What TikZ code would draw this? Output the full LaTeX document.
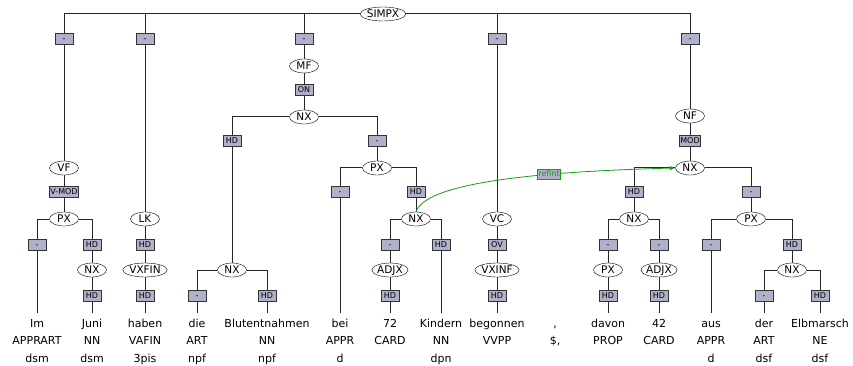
\documentclass[tikz,border=0pt]{standalone}
\usepackage{fontspec}
\setmainfont{DejaVu Sans}
\usetikzlibrary{arrows.meta, shapes.geometric}

\definecolor{fnfill}{RGB}{175,176,202}
\definecolor{refgreen}{RGB}{20,160,20}

\begin{document}
\begin{tikzpicture}[>=Latex, x=1pt, y=-1pt,
    cat/.style={draw, ellipse, fill=white, inner xsep=0pt, inner ysep=0pt,
        minimum width=29pt, minimum height=14pt, text height=7.6pt, text depth=0pt,
        font=\fontsize{10.5}{12}\selectfont},
    fn/.style={draw=black!80, line width=0.8pt, fill=fnfill, inner xsep=1pt,
        inner ysep=0pt, minimum width=18pt, minimum height=10.5pt, text height=6pt,
        text depth=1pt, font=\fontsize{8}{9}\selectfont},
    word/.style={anchor=base, inner xsep=0pt, inner ysep=5.5pt, text height=8.4pt,
        text depth=2.5pt, font=\fontsize{11}{13}\selectfont},
    branch/.style={line width=1pt, black!85},
    refarc/.style={refgreen, line width=0.8pt, -{Latex[length=5.5pt, width=4.5pt]}}]
    \useasboundingbox (0,0) rectangle (853,366);
    % tokens: word, tag, morphology
    \foreach \x/\k/\w/\t/\m in {37/im/Im/APPRART/dsm, 92/juni/Juni/NN/dsm,
        145/haben/haben/VAFIN/3pis, 197/die/die/ART/npf, 267/blut/Blutentnahmen/NN/npf,
        340/bei/bei/APPR/d, 390/zwei/72/CARD/{}, 441/kind/Kindern/NN/dpn,
        497/begon/begonnen/VVPP/{}, 555/komma/{,}/{\$,}/{}, 608/davon/davon/PROP/{},
        659/vier/42/CARD/{}, 711/aus/aus/APPR/d, 764/der/der/ART/dsf,
        820/elb/Elbmarsch/NE/dsf} {
        \node[word] (w-\k) at (\x, 327) {\w};
        \node[word] (t-\k) at (\x, 344.5) {\t};
        \node[word] (m-\k) at (\x, 362) {\m};
    }
    % SIMPX
    \node[cat] (simpx) at (383, 14) {SIMPX};
    \node[fn] (l-vf) at (64, 39) {-};
    \node[fn] (l-lk) at (145, 39) {-};
    \node[fn] (l-mf) at (304, 39) {-};
    \node[fn] (l-vc) at (497, 39) {-};
    \node[fn] (l-nf) at (690, 39) {-};
    % Vorfeld
    \node[cat] (vf) at (64, 168) {VF};
    \node[fn] (l-pxa) at (64, 192) {V-MOD};
    \node[cat] (pxa) at (64, 219) {PX};
    \node[fn] (l-im) at (37, 245) {-};
    \node[fn] (l-nxa) at (92, 245) {HD};
    \node[cat] (nxa) at (92, 270) {NX};
    \node[fn] (l-juni) at (92, 296) {HD};
    % linke Klammer
    \node[cat] (lk) at (145, 219) {LK};
    \node[fn] (l-vxfin) at (145, 245) {HD};
    \node[cat] (vxfin) at (145, 270) {VXFIN};
    \node[fn] (l-haben) at (145, 296) {HD};
    % Mittelfeld
    \node[cat] (mf) at (304, 66) {MF};
    \node[fn] (l-nxb) at (304, 90) {ON};
    \node[cat] (nxb) at (304, 117) {NX};
    \node[fn] (l-nxc) at (232, 141) {HD};
    \node[cat] (nxc) at (232, 270) {NX};
    \node[fn] (l-die) at (197, 296) {-};
    \node[fn] (l-blut) at (267, 296) {HD};
    \node[fn] (l-pxb) at (377, 141) {-};
    \node[cat] (pxb) at (377, 168) {PX};
    \node[fn] (l-bei) at (340, 192) {-};
    \node[fn] (l-nxd) at (416, 192) {HD};
    \node[cat] (nxd) at (416, 219) {NX};
    \node[fn] (l-adjxa) at (390, 245) {-};
    \node[cat] (adjxa) at (390, 270) {ADJX};
    \node[fn] (l-zwei) at (390, 296) {HD};
    \node[fn] (l-kind) at (441, 245) {HD};
    % Verbkomplex
    \node[cat] (vc) at (497, 219) {VC};
    \node[fn] (l-vxinf) at (497, 245) {OV};
    \node[cat] (vxinf) at (497, 270) {VXINF};
    \node[fn] (l-begon) at (497, 296) {HD};
    % Nachfeld
    \node[cat] (nf) at (690, 116) {NF};
    \node[fn] (l-nxe) at (690, 141) {MOD};
    \node[cat] (nxe) at (690, 168) {NX};
    \node[fn] (l-nxf) at (634, 192) {HD};
    \node[cat] (nxf) at (634, 219) {NX};
    \node[fn] (l-pxc) at (608, 245) {-};
    \node[cat] (pxc) at (608, 270) {PX};
    \node[fn] (l-davon) at (608, 296) {HD};
    \node[fn] (l-adjxb) at (659, 245) {-};
    \node[cat] (adjxb) at (659, 270) {ADJX};
    \node[fn] (l-vier) at (659, 296) {HD};
    \node[fn] (l-pxd) at (751, 192) {-};
    \node[cat] (pxd) at (751, 219) {PX};
    \node[fn] (l-aus) at (711, 245) {-};
    \node[fn] (l-nxg) at (792, 245) {HD};
    \node[cat] (nxg) at (792, 270) {NX};
    \node[fn] (l-der) at (764, 296) {-};
    \node[fn] (l-elb) at (820, 296) {HD};
    % branches to the sides
    \foreach \a/\b in {simpx.west/l-vf, simpx.west/l-lk, simpx.west/l-mf,
        simpx.east/l-vc, simpx.east/l-nf, pxa.west/l-im, pxa.east/l-nxa,
        nxb.west/l-nxc, nxb.east/l-pxb, nxc.west/l-die, nxc.east/l-blut,
        pxb.west/l-bei, pxb.east/l-nxd, nxd.west/l-adjxa, nxd.east/l-kind,
        nxe.west/l-nxf, nxe.east/l-pxd, nxf.west/l-pxc, nxf.east/l-adjxb,
        pxd.west/l-aus, pxd.east/l-nxg, nxg.west/l-der, nxg.east/l-elb}
        \draw[branch] (\a) -| (\b.north);
    % straight down
    \foreach \a/\b in {l-vf/vf, vf/l-pxa, l-pxa/pxa, l-im/w-im, l-nxa/nxa,
        nxa/l-juni, l-juni/w-juni, l-lk/lk, lk/l-vxfin, l-vxfin/vxfin,
        vxfin/l-haben, l-haben/w-haben, l-mf/mf, mf/l-nxb, l-nxb/nxb,
        l-nxc/nxc, l-die/w-die, l-blut/w-blut, l-pxb/pxb, l-bei/w-bei,
        l-nxd/nxd, l-adjxa/adjxa, adjxa/l-zwei, l-zwei/w-zwei, l-kind/w-kind,
        l-vc/vc, vc/l-vxinf, l-vxinf/vxinf, vxinf/l-begon, l-begon/w-begon,
        l-nf/nf, nf/l-nxe, l-nxe/nxe, l-nxf/nxf, l-pxc/pxc, pxc/l-davon,
        l-davon/w-davon, l-adjxb/adjxb, adjxb/l-vier, l-vier/w-vier,
        l-pxd/pxd, l-aus/w-aus, l-nxg/nxg, l-der/w-der, l-elb/w-elb}
        \draw[branch] (\a) -- (\b);
    % secondary edge
    \draw[refarc] (nxd.north) .. controls (425, 185) and (520, 172) .. (nxe.west)
        node[pos=0.69, fn, draw=refgreen, text=refgreen] (refint) {refint};
\end{tikzpicture}
\end{document}
